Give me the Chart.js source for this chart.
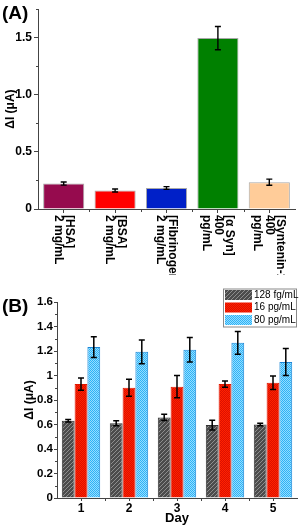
<!DOCTYPE html>
<html>
<head>
<meta charset="utf-8">
<script src="https://cdn.jsdelivr.net/npm/chart.js@4.4.0/dist/chart.umd.min.js"></script>
<style>
  body { margin: 0; background: #fff; width: 300px; height: 528px; overflow: hidden; }
  .panel { position: relative; width: 300px; }
  #wrapA { height: 275px; }
  #wrapB { height: 253px; }
  .tag { position: absolute; left: 2px; font: bold 19px 'Liberation Sans', Arial, sans-serif; color: #000; }
</style>
</head>
<body>
<div class="panel" id="wrapA"><canvas id="chartA" width="300" height="275"></canvas><div class="tag" style="top:2px">(A)</div></div>
<div class="panel" id="wrapB"><canvas id="chartB" width="300" height="253"></canvas><div class="tag" style="top:20px">(B)</div></div>
<script>
// (A) selectivity
const categoriesA = [['[HSA]', '2 mg/mL'], ['[BSA]', '2 mg/mL'], ['[Fibrinogen]', '2 mg/mL'], ['[α Syn]', '400', 'pg/mL'], ['[Syntenin-1]', '400', 'pg/mL']];
const valuesA = [0.223, 0.162, 0.184, 1.497, 0.235];
const errorsA = [0.014, 0.013, 0.012, 0.102, 0.027];
const colorsA = ['#960b4e', '#ff0000', '#0020c8', '#008000', '#ffcc99'];

// (B) stability over days
const days = ['1', '2', '3', '4', '5'];
const seriesNames = ['128 fg/mL', '16 pg/mL', '80 pg/mL'];
const values128fg = [0.630, 0.610, 0.658, 0.595, 0.600];
const errors128fg = [0.010, 0.020, 0.025, 0.040, 0.010];
const values16pg = [0.930, 0.900, 0.909, 0.930, 0.940];
const errors16pg = [0.050, 0.070, 0.090, 0.025, 0.055];
const values80pg = [1.232, 1.193, 1.210, 1.267, 1.111];
const errors80pg = [0.085, 0.097, 0.100, 0.093, 0.110];

const FONT = "'Liberation Sans', Arial, sans-serif";
const AXIS = '#444';

function makePattern(size, paint) {
  const c = document.createElement('canvas');
  c.width = c.height = size;
  const g = c.getContext('2d');
  paint(g, size);
  return g.createPattern(c, 'repeat');
}
const hatchGray = makePattern(4, (g, s) => {
  g.fillStyle = '#4c4c4c'; g.fillRect(0, 0, s, s);
  g.fillStyle = '#8e8e8e';
  for (let i = 0; i < s; i++) g.fillRect(i, s - 1 - i, 1, 1);
});
const dotsRed = makePattern(2, (g) => {
  g.fillStyle = '#ff2200'; g.fillRect(0, 0, 2, 2);
  g.fillStyle = '#dc1000'; g.fillRect(0, 0, 1, 1); g.fillRect(1, 1, 1, 1);
});
const checkBlue = makePattern(2, (g) => {
  g.fillStyle = '#2eb2f6'; g.fillRect(0, 0, 2, 2);
  g.fillStyle = '#94ddff'; g.fillRect(0, 0, 1, 1); g.fillRect(1, 1, 1, 1);
});

const errorBars = {
  id: 'errorBars',
  afterDatasetsDraw(chart, args, opts) {
    const { ctx } = chart;
    const y = chart.scales.y;
    ctx.save();
    ctx.strokeStyle = '#000';
    ctx.lineWidth = opts.width;
    chart.data.datasets.forEach((ds, i) => {
      chart.getDatasetMeta(i).data.forEach((bar, j) => {
        const top = y.getPixelForValue(ds.data[j] + ds.errors[j]);
        const bot = y.getPixelForValue(ds.data[j] - ds.errors[j]);
        const hw = opts.cap / 2;
        ctx.beginPath();
        ctx.moveTo(bar.x, top); ctx.lineTo(bar.x, bot);
        ctx.moveTo(bar.x - hw, top); ctx.lineTo(bar.x + hw, top);
        ctx.moveTo(bar.x - hw, bot); ctx.lineTo(bar.x + hw, bot);
        ctx.stroke();
      });
    });
    ctx.restore();
  }
};

// minor ticks: half steps on y, category boundaries on x
const minorTicks = {
  id: 'minorTicks',
  afterDraw(chart, args, opts) {
    const { ctx } = chart;
    const x = chart.scales.x, y = chart.scales.y;
    ctx.save();
    ctx.strokeStyle = AXIS;
    ctx.lineWidth = 1;
    ctx.beginPath();
    const n = Math.round(y.max / opts.yStep);
    for (let k = 0; k < n; k++) {
      const py = Math.round(y.getPixelForValue((k + 0.5) * opts.yStep)) + 0.5;
      ctx.moveTo(y.right, py); ctx.lineTo(y.right - 2, py);
    }
    for (let i = 1; i < chart.data.labels.length; i++) {
      const px = Math.round(x.getPixelForValue(i - 0.5)) + 0.5;
      ctx.moveTo(px, x.top); ctx.lineTo(px, x.top + 3);
    }
    ctx.stroke();
    ctx.restore();
  }
};

// x labels of (A) read top to bottom
const verticalLabels = {
  id: 'verticalLabels',
  afterDraw(chart, args, opts) {
    const { ctx } = chart;
    const x = chart.scales.x;
    ctx.save();
    ctx.font = opts.font;
    ctx.fillStyle = '#000';
    ctx.textAlign = 'left';
    ctx.textBaseline = 'middle';
    chart.data.labels.forEach((lines, i) => {
      ctx.save();
      ctx.translate(x.getPixelForTick(i), x.top + opts.offset);
      ctx.rotate(Math.PI / 2);
      lines.forEach((t, k) => ctx.fillText(t, 0, (k - (lines.length - 1) / 2) * opts.lineHeight));
      ctx.restore();
    });
    ctx.restore();
  }
};

// boxed legend in the top right corner of (B)
const boxLegend = {
  id: 'boxLegend',
  afterDraw(chart, args, opts) {
    const { ctx, chartArea } = chart;
    const right = chartArea.right, top = chartArea.top - 13.5;
    const w = 74, rowH = 12.5;
    const dsList = chart.data.datasets;
    const h = dsList.length * rowH + 1.5;
    ctx.save();
    ctx.fillStyle = '#fff';
    ctx.fillRect(right - w, top, w, h);
    ctx.strokeStyle = '#8a8a8a';
    ctx.lineWidth = 1;
    ctx.strokeRect(right - w + 0.5, top + 0.5, w - 1, h - 1);
    ctx.font = '10px ' + FONT;
    ctx.textBaseline = 'middle';
    dsList.forEach((ds, i) => {
      const cy = top + 6.5 + i * rowH;
      ctx.fillStyle = ds.backgroundColor;
      ctx.fillRect(right - w + 2, cy - 5, 27, 10);
      ctx.fillStyle = '#000';
      ctx.fillText(ds.label, right - w + 31, cy);
    });
    ctx.restore();
  }
};

new Chart(document.getElementById('chartA'), {
  type: 'bar',
  data: {
    labels: categoriesA,
    datasets: [{
      data: valuesA,
      errors: errorsA,
      backgroundColor: colorsA,
      borderColor: '#a8a8a8',
      borderWidth: 1,
      categoryPercentage: 1,
      barPercentage: 0.8
    }]
  },
  options: {
    responsive: false,
    animation: false,
    layout: { padding: { top: 3, right: 5, left: 0, bottom: 0 } },
    plugins: {
      legend: { display: false },
      tooltip: { enabled: false },
      errorBars: { width: 1.4, cap: 6 },
      minorTicks: { yStep: 0.5 },
      verticalLabels: { font: 'bold 12px ' + FONT, offset: 6, lineHeight: 11.5 }
    },
    scales: {
      x: {
        afterFit: (s) => { s.height = 66; },
        ticks: { display: false },
        grid: { offset: false, drawOnChartArea: false, tickLength: 4, tickColor: AXIS },
        border: { color: AXIS, width: 1 }
      },
      y: {
        min: 0,
        max: 1.75,
        afterFit: (s) => { s.width = 38; },
        ticks: { stepSize: 0.5, includeBounds: false, padding: 2, color: '#000', font: { family: FONT, size: 12, weight: 'bold' } },
        grid: { drawOnChartArea: false, tickLength: 4, tickColor: AXIS },
        border: { color: AXIS, width: 1 },
        title: { display: true, text: 'ΔI (μA)', color: '#000', padding: { top: 3, bottom: 0 }, font: { family: FONT, size: 12, weight: 'bold' } }
      }
    }
  },
  plugins: [errorBars, minorTicks, verticalLabels]
});

new Chart(document.getElementById('chartB'), {
  type: 'bar',
  data: {
    labels: days,
    datasets: [
      { label: seriesNames[0], data: values128fg, errors: errors128fg, backgroundColor: hatchGray, borderColor: '#333', borderWidth: 1 },
      { label: seriesNames[1], data: values16pg, errors: errors16pg, backgroundColor: dotsRed, borderColor: '#e01800', borderWidth: 1 },
      { label: seriesNames[2], data: values80pg, errors: errors80pg, backgroundColor: checkBlue, borderColor: '#1b86d6', borderWidth: 1 }
    ]
  },
  options: {
    responsive: false,
    animation: false,
    datasets: { bar: { categoryPercentage: 0.8, barPercentage: 1 } },
    layout: { padding: { top: 27, right: 3, left: 0, bottom: 0 } },
    plugins: {
      legend: { display: false },
      tooltip: { enabled: false },
      errorBars: { width: 1.5, cap: 6 },
      minorTicks: { yStep: 0.2 },
      boxLegend: {}
    },
    scales: {
      x: {
        afterFit: (s) => { s.height = 30; },
        ticks: { padding: 0, color: '#000', font: { family: FONT, size: 12, weight: 'bold' } },
        grid: { offset: false, drawOnChartArea: false, tickLength: 3, tickColor: AXIS },
        border: { color: AXIS, width: 1 },
        title: { display: true, text: 'Day', color: '#000', padding: { top: 0, bottom: 2 }, font: { family: FONT, size: 13, weight: 'bold' } }
      },
      y: {
        min: 0,
        max: 1.6,
        afterFit: (s) => { s.width = 57; },
        ticks: { stepSize: 0.2, padding: 1, color: '#000', callback: (v) => String(Math.round(v * 10) / 10), font: { family: FONT, size: 11.5, weight: 'bold' } },
        grid: { drawOnChartArea: false, tickLength: 3, tickColor: AXIS },
        border: { color: AXIS, width: 1 },
        title: { display: true, text: 'ΔI (μA)', color: '#000', padding: { top: 22, bottom: 0 }, font: { family: FONT, size: 12, weight: 'bold' } }
      }
    }
  },
  plugins: [errorBars, minorTicks, boxLegend]
});
</script>
</body>
</html>
